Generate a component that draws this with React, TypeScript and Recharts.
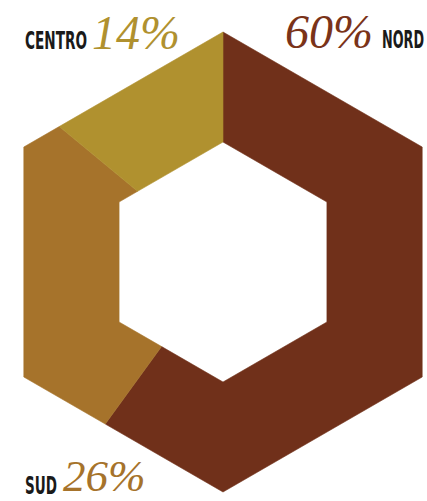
import React from 'react';
import { PieChart, Pie, Cell } from 'recharts';

const categories = ['NORD', 'SUD', 'CENTRO'];
const shares = [60, 26, 14];
const sliceColors = ['#70301A', '#A6732B', '#B0912F'];
const labelColors = ['#7A3319', '#A6732B', '#B0912F'];

const data = categories.map((name, i) => ({ name, value: shares[i] }));

// distance from centre to a pointy-top hexagon edge at a given angle
const hexRadius = (R: number, deg: number) => {
  const phi = ((deg % 60) + 60) % 60;
  const d = Math.min(phi, 60 - phi);
  return (R * Math.cos(Math.PI / 6)) / Math.cos((d * Math.PI) / 180);
};

const HexSector = (props: any) => {
  const { cx, cy, innerRadius, outerRadius, startAngle, endAngle, fill } = props;
  const hi = Math.max(startAngle, endAngle);
  const lo = Math.min(startAngle, endAngle);
  const angles = [hi];
  for (let v = Math.floor((hi - 30) / 60) * 60 + 30; v > lo; v -= 60) {
    if (v < hi) angles.push(v);
  }
  angles.push(lo);
  const pt = (R: number, a: number) => {
    const r = hexRadius(R, a);
    const rad = (a * Math.PI) / 180;
    return `${(cx + r * Math.cos(rad)).toFixed(2)},${(cy - r * Math.sin(rad)).toFixed(2)}`;
  };
  const outer = angles.map((a) => pt(outerRadius, a));
  const inner = angles.slice().reverse().map((a) => pt(innerRadius, a));
  return <polygon points={[...outer, ...inner].join(' ')} fill={fill} stroke={fill} strokeWidth={0.6} />;
};

const capsFont = { fontFamily: '"DejaVu Sans", sans-serif', fontWeight: 700, fontStretch: 'condensed' as const };
const numFont = { fontFamily: '"Liberation Serif", serif', fontStyle: 'italic' as const };

// tall condensed caps label: small font stretched vertically
const Caps = ({ x, y, w, children }: { x: number; y: number; w: number; children: React.ReactNode }) => (
  <text
    transform={`translate(${x},${y}) scale(1,1.6)`}
    fontSize={15}
    fill="#1a1a1a"
    textLength={w}
    lengthAdjust="spacingAndGlyphs"
    style={capsFont}
  >
    {children}
  </text>
);

const Num = ({ x, y, size = 48, color, children }: { x: number; y: number; size?: number; color: string; children: React.ReactNode }) => (
  <text x={x} y={y} fontSize={size} fill={color} style={numFont}>
    {children}
  </text>
);

export default function App() {
  return (
    <div style={{ position: 'absolute', left: 0, top: 0, width: 427, height: 501, background: '#fff' }}>
      <PieChart width={427} height={501} margin={{ top: 0, right: 0, bottom: 0, left: 0 }}>
        <Pie
          data={data}
          dataKey="value"
          nameKey="name"
          cx={223}
          cy={262}
          innerRadius={120}
          outerRadius={230}
          startAngle={90}
          endAngle={-270}
          stroke="none"
          shape={HexSector}
          isAnimationActive={false}
        >
          {data.map((_d, i) => (
            <Cell key={`cell-${i}`} fill={sliceColors[i]} />
          ))}
        </Pie>
      </PieChart>
      <svg width={427} height={501} style={{ position: 'absolute', left: 0, top: 0, pointerEvents: 'none' }}>
        <Caps x={25} y={49} w={62}>{categories[2]}</Caps>
        <Num x={92} y={49} color={labelColors[2]}>{`${shares[2]}%`}</Num>
        <Num x={285} y={48} color={labelColors[0]}>{`${shares[0]}%`}</Num>
        <Caps x={382} y={48} w={42}>{categories[0]}</Caps>
        <Caps x={25} y={494} w={32}>{categories[1]}</Caps>
        <Num x={63} y={491} size={45} color={labelColors[1]}>{`${shares[1]}%`}</Num>
      </svg>
    </div>
  );
}
